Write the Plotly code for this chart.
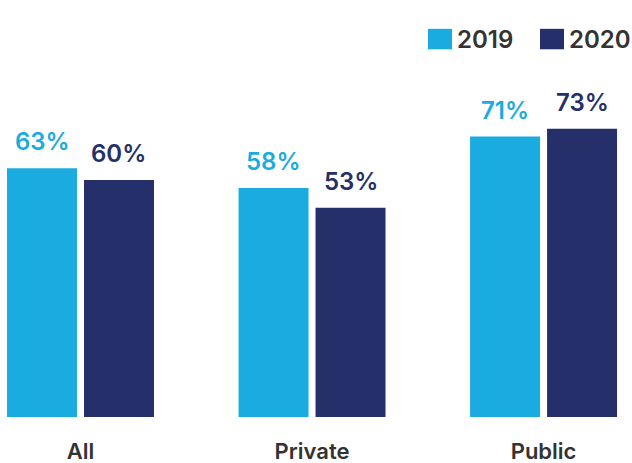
import plotly.graph_objects as go

categories = ["All", "Private", "Public"]
series_names = ["2019", "2020"]
values_2019 = [63, 58, 71]
values_2020 = [60, 53, 73]
series_values = [values_2019, values_2020]
series_colors = ["#1AABE1", "#25306A"]

FONT = "Inter"
TEXT_GREY = "#333333"

fig = go.Figure()
for name, vals, color in zip(series_names, series_values, series_colors):
    fig.add_trace(go.Bar(
        x=categories, y=vals, name=name,
        marker=dict(color=color, line=dict(width=0)),
        showlegend=False,
    ))

# value labels above each bar
offsets = [-0.5, 0.5]
slot = 0.665 / 2
for vals, color, off in zip(series_values, series_colors, offsets):
    for i, v in enumerate(vals):
        fig.add_annotation(
            x=i + off * slot, y=v, xref="x", yref="y",
            text=f"{v}%", showarrow=False,
            yanchor="bottom", yshift=10,
            font=dict(family=FONT, size=24, color=color, weight=600),
        )

# custom legend in the top-right corner
legend_x = [428, 540]
for name, color, lx in zip(series_names, series_colors, legend_x):
    fig.add_shape(
        type="rect", xref="paper", yref="paper",
        x0=lx / 632, x1=(lx + 24) / 632,
        y0=1 - 32 / 463, y1=1 - 8 / 463,
        line=dict(width=0), fillcolor=color, layer="above",
    )
    fig.add_annotation(
        x=(lx + 27) / 632, y=1 - 20 / 463, xref="paper", yref="paper",
        text=name, showarrow=False, xanchor="left", yanchor="middle",
        font=dict(family=FONT, size=24, color=TEXT_GREY, weight=600),
    )

fig.update_layout(
    width=632, height=463,
    margin=dict(l=0, r=0, t=22, b=46),
    paper_bgcolor="white", plot_bgcolor="white",
    barmode="group", bargap=0.335, bargroupgap=0.0909,
    xaxis=dict(
        range=[-0.3477, 2.382], showgrid=False, zeroline=False,
        showline=False, ticks="", ticklabelstandoff=19,
        tickfont=dict(family=FONT, size=22, color=TEXT_GREY, weight=600),
    ),
    yaxis=dict(range=[0, 100], visible=False),
)

fig.write_html("out.html")
